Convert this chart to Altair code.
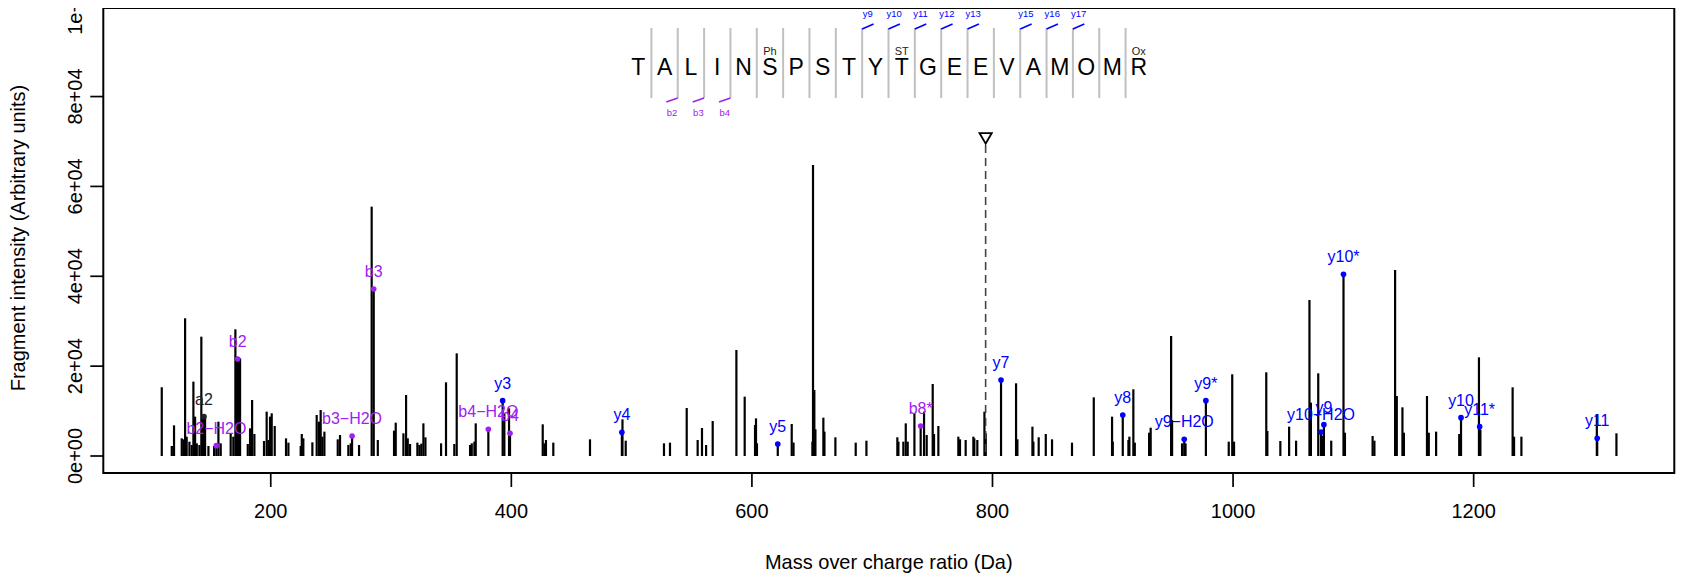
import altair as alt
import pandas as pd

FONT = "Liberation Sans"

# ---------------- spectrum peaks (m/z, intensity) ----------------
mz = [
    109.4, 117.7, 119.1, 119.6, 126.0, 127.4, 128.8, 130.1, 132.4, 134.3,
    135.7, 137.1, 138.5, 140.7, 142.3, 143.4, 144.5, 145.4, 148.2, 152.9,
    154.8, 156.5, 158.4, 166.7, 168.9, 170.6, 171.7, 172.5, 173.4, 174.5,
    180.9, 182.8, 184.5, 186.4, 194.4, 196.6, 198.0, 199.4, 200.8, 203.3,
    212.7, 214.7, 224.9, 225.8, 227.1, 234.6, 238.2, 240.1, 241.5, 242.9,
    244.6, 255.7, 257.6, 264.5, 266.5, 267.6, 273.4, 283.9, 285.6, 289.0,
    302.5, 303.9, 310.3, 312.5, 313.9, 315.8, 321.9, 323.6, 325.2, 326.9,
    328.6, 341.6, 345.7, 352.6, 354.6, 365.7, 367.1, 369.3, 370.4, 380.9,
    392.8, 394.2, 398.1, 398.9, 426.1, 427.5, 428.8, 434.9, 465.4, 491.9,
    492.4, 495.1, 526.9, 531.9, 545.8, 554.9, 558.5, 561.9, 567.4, 587.1,
    594.0, 602.6, 603.4, 604.2, 621.5, 633.1, 634.6, 650.3, 650.8, 651.9,
    652.8, 659.4, 660.3, 669.4, 686.3, 695.2, 720.9, 721.8, 725.9, 727.9,
    729.5, 735.1, 740.3, 743.1, 745.3, 750.3, 751.4, 755.0, 771.6, 773.0,
    777.7, 784.1, 784.9, 787.4, 793.3, 794.4, 807.1, 819.6, 820.7, 833.2,
    834.0, 838.4, 844.3, 849.5, 866.1, 884.2, 899.4, 900.0, 908.3, 913.0,
    913.8, 917.1, 918.3, 930.2, 931.5, 948.5, 949.3, 957.6, 959.4, 960.5,
    977.4, 996.4, 999.3, 1000.8, 1027.6, 1028.5, 1039.3, 1046.6, 1052.4, 1063.5,
    1064.7, 1070.8, 1073.1, 1074.0, 1075.5, 1081.6, 1091.8, 1093.0, 1116.0, 1117.5,
    1134.7, 1136.1, 1140.8, 1142.0, 1161.2, 1162.7, 1168.8, 1188.0, 1189.5, 1204.4,
    1205.0, 1205.6, 1232.4, 1233.6, 1239.7, 1302.4, 1302.7, 1318.7,
]
intensity = [
    15300, 2230, 2230, 6830, 3930, 3710, 30650, 4300, 3190, 2450,
    16550, 8760, 2820, 2450, 26560, 8900, 8760, 8760, 2230, 2230,
    2300, 7640, 2820, 4900, 4300, 28200, 22100, 21590, 21900, 21740,
    2670, 6160, 12470, 4900, 3340, 9870, 3560, 8760, 9500, 6680,
    3930, 2970, 2230, 4900, 3930, 3040, 9130, 7640, 10240, 4300,
    5420, 3710, 4680, 2450, 2820, 4450, 2450, 55500, 37175, 3560,
    5640, 7420, 5050, 13580, 3930, 2670, 2970, 2450, 2750, 7270,
    4160, 2820, 16400, 2670, 22850, 2450, 2820, 3190, 7270, 5940,
    12320, 9500, 10610, 5050, 7050, 2820, 3560, 2970, 3710, 5270,
    8160, 3410, 2820, 2970, 10690, 3560, 6230, 2450, 7790, 23600,
    13210, 6900, 8380, 2820, 2670, 7120, 3000, 3190, 64780, 14690,
    5940, 8530, 5420, 4160, 2970, 3410, 4160, 3190, 3190, 7270,
    3190, 9500, 6680, 9870, 4680, 16030, 4900, 6680, 4300, 3710,
    3560, 4300, 3930, 3560, 9870, 5050, 16920, 16180, 3710, 6530,
    3190, 4160, 4900, 3710, 2970, 13060, 8760, 3190, 9130, 3560,
    4300, 14840, 2970, 5190, 6300, 26710, 8000, 2820, 3710, 2820,
    12320, 3190, 18180, 3190, 18630, 5570, 3340, 6530, 3410, 34730,
    11870, 18400, 5340, 4500, 6980, 3410, 40440, 5190, 4450, 3410,
    41400, 13360, 10830, 5190, 13360, 5190, 5420, 4900, 8530, 21960,
    6530, 5800, 15290, 4300, 4300, 9350, 3930, 5050,
]

# ---------------- annotated fragment ions ----------------
ann_mz = [144.5, 154.8, 172.5, 267.6, 285.6, 380.9, 392.8, 398.9, 491.9, 621.5,
          740.3, 807.1, 908.3, 959.4, 977.4, 1073.1, 1075.5, 1091.8, 1189.5, 1205.0, 1302.7]
ann_int = [8760, 2300, 21590, 4450, 37175, 5940, 12320, 5050, 5270, 2670,
           6680, 16920, 9130, 3710, 12320, 5340, 6980, 40440, 8530, 6530, 3930]
ann_label = ["a2", "b2\u2212H2O", "b2", "b3\u2212H2O", "b3", "b4\u2212H2O", "y3", "b4", "y4", "y5",
             "b8*", "y7", "y8", "y9\u2212H2O", "y9*", "y10\u2212H2O", "y9", "y10*", "y10", "y11*", "y11"]
ann_ion = ["a", "b", "b", "b", "b", "b", "y", "b", "y", "y",
           "b", "y", "y", "y", "y", "y", "y", "y", "y", "y", "y"]

# ---------------- precursor ----------------
prec_mz = [794.3]
prec_line_top = [69200]
prec_marker = [70700]

# ---------------- peptide sequence ----------------
residues = list("TALINSPSTYTGEEVAMOMR")
mod_site = [6, 11, 20]
mod_text = ["Ph", "ST", "Ox"]
y_site = [9, 10, 11, 12, 13, 15, 16, 17]
y_text = ["y9", "y10", "y11", "y12", "y13", "y15", "y16", "y17"]
b_site = [2, 3, 4]
b_text = ["b2", "b3", "b4"]

# ---------------- axes ----------------
x_ticks = [200, 400, 600, 800, 1000, 1200]
y_ticks = [0, 20000, 40000, 60000, 80000, 100000]
x_title = "Mass over charge ratio (Da)"
y_title = "Fragment intensity (Arbitrary units)"

# layout of the sequence banner, expressed on the m/z axis
SEQ_START = 505.5   # m/z position of the first residue
SEQ_STEP = 21.9     # m/z width of one residue slot
DIAG = 0.433        # length of the ion ticks, in residue slots


def slot(k):
    return SEQ_START + SEQ_STEP * (k - 1)


W, H = 1571, 465
x_scale = alt.Scale(domain=[60.8, 1366.8], nice=False, zero=False)
y_scale = alt.Scale(domain=[-3784, 99711], nice=False, zero=False)

xn = lambda f: alt.X(f, scale=x_scale, axis=None)
yn = lambda f: alt.Y(f, scale=y_scale, axis=None)

peaks = pd.DataFrame({"mz": mz, "intensity": intensity})
ann = pd.DataFrame({"mz": ann_mz, "intensity": ann_int, "label": ann_label, "ion": ann_ion})
prec = pd.DataFrame({"mz": prec_mz, "top": prec_line_top, "marker": prec_marker})

ion_color = alt.Color("ion:N", scale=alt.Scale(domain=["a", "b", "y"],
                                               range=["#222222", "#A020F0", "#0000FF"]), legend=None)

bars = alt.Chart(peaks).mark_rule(color="black", strokeWidth=2.2).encode(
    x=xn("mz:Q"), y=yn("intensity:Q"), y2=alt.datum(0))

dots = alt.Chart(ann).mark_circle(size=32, opacity=1).encode(
    x=xn("mz:Q"), y=yn("intensity:Q"), color=ion_color)

ann_text = alt.Chart(ann).mark_text(font=FONT, fontSize=16, dy=-17, baseline="middle").encode(
    x=xn("mz:Q"), y=yn("intensity:Q"), text="label:N", color=ion_color)

prec_line = alt.Chart(prec).mark_rule(color="#444444", strokeDash=[8, 5], strokeWidth=1.6).encode(
    x=xn("mz:Q"), y=yn("top:Q"), y2=alt.datum(0))

prec_tri = alt.Chart(prec).mark_point(shape="triangle-down", filled=False, color="black",
                                      size=150, strokeWidth=1.8, opacity=1).encode(
    x=xn("mz:Q"), y=yn("marker:Q"))

# manual axes (ticks + labels + titles)
xt = pd.DataFrame({"v": x_ticks, "t": [str(v) for v in x_ticks]})
yt = pd.DataFrame({"v": y_ticks, "t": [f"{v:.0e}" for v in y_ticks]})

x_tick_marks = alt.Chart(xt).mark_rule(color="black", strokeWidth=1.7).encode(
    x=xn("v:Q"), y=alt.value(H), y2=alt.value(H + 14))
x_tick_labels = alt.Chart(xt).mark_text(font=FONT, fontSize=20, baseline="middle", color="black").encode(
    x=xn("v:Q"), y=alt.value(H + 39), text="t:N")
y_tick_marks = alt.Chart(yt).mark_rule(color="black", strokeWidth=1.7).encode(
    x=alt.value(-13), x2=alt.value(0), y=yn("v:Q"))
y_tick_labels = alt.Chart(yt).mark_text(font=FONT, fontSize=20, angle=270, align="center",
                                        baseline="middle", color="black").encode(
    x=alt.value(-27), y=yn("v:Q"), text="t:N")
x_title_mark = alt.Chart(pd.DataFrame({"t": [x_title]})).mark_text(
    font=FONT, fontSize=20, baseline="middle", color="black").encode(
    x=alt.value(W / 2), y=alt.value(H + 90), text="t:N")
y_title_mark = alt.Chart(pd.DataFrame({"t": [y_title]})).mark_text(
    font=FONT, fontSize=20, angle=270, align="center", baseline="middle", color="black").encode(
    x=alt.value(-84), y=alt.value(230), text="t:N")

# sequence banner
letters = pd.DataFrame({"p": [slot(k) for k in range(1, len(residues) + 1)], "res": residues})
seps = pd.DataFrame({"p": [slot(k + 0.5) for k in range(1, len(residues))]})
mods = pd.DataFrame({"p": [slot(k) for k in mod_site], "t": mod_text})
ydf = pd.DataFrame({"s": [slot(k + 0.5) for k in y_site],
                    "e": [slot(k + 0.5 + DIAG) for k in y_site],
                    "m": [slot(k + 0.5 + DIAG / 2) for k in y_site], "t": y_text})
bdf = pd.DataFrame({"s": [slot(k + 0.5) for k in b_site],
                    "e": [slot(k + 0.5 - DIAG) for k in b_site],
                    "m": [slot(k + 0.5 - DIAG / 2) for k in b_site], "t": b_text})

sep_rules = alt.Chart(seps).mark_rule(color="#C0C0C0", strokeWidth=2).encode(
    x=xn("p:Q"), y=alt.value(20), y2=alt.value(90))
letter_txt = alt.Chart(letters).mark_text(font=FONT, fontSize=23, baseline="middle", color="black").encode(
    x=xn("p:Q"), y=alt.value(60), text="res:N")
mod_txt = alt.Chart(mods).mark_text(font=FONT, fontSize=11, baseline="middle", color="#222222").encode(
    x=xn("p:Q"), y=alt.value(44), text="t:N")
y_diag = alt.Chart(ydf).mark_rule(color="#0000FF", strokeWidth=1.5).encode(
    x=xn("s:Q"), x2="e:Q", y=alt.value(21), y2=alt.value(16))
y_lab = alt.Chart(ydf).mark_text(font=FONT, fontSize=9.5, baseline="middle", color="#0000FF").encode(
    x=xn("m:Q"), y=alt.value(6), text="t:N")
b_diag = alt.Chart(bdf).mark_rule(color="#A020F0", strokeWidth=1.5).encode(
    x=xn("s:Q"), x2="e:Q", y=alt.value(90), y2=alt.value(94))
b_lab = alt.Chart(bdf).mark_text(font=FONT, fontSize=9.5, baseline="middle", color="#A020F0").encode(
    x=xn("m:Q"), y=alt.value(104.7), text="t:N")

chart = alt.layer(
    bars, prec_line, prec_tri, dots, ann_text,
    x_tick_marks, x_tick_labels, y_tick_marks, y_tick_labels, x_title_mark, y_title_mark,
    sep_rules, letter_txt, mod_txt, y_diag, y_lab, b_diag, b_lab,
).properties(
    width=W, height=H,
    autosize=alt.AutoSizeParams(type="none"),
    padding={"left": 95.3, "top": 0, "right": 5, "bottom": 104},
    background="white",
).configure_view(stroke="black", strokeWidth=2)

chart.save("out.html", embed_options={"renderer": "svg", "actions": False})
